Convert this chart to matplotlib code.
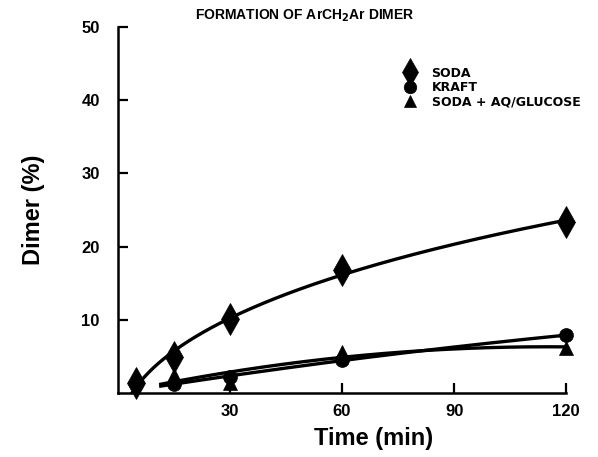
import numpy as np
import matplotlib
matplotlib.use('Agg')
import matplotlib.pyplot as plt

plt.rcParams['font.family'] = ['Liberation Sans', 'DejaVu Sans']
plt.rcParams['font.weight'] = 'bold'

# data
soda_t = [5, 15, 30, 60, 120]
soda_y = [1.4, 4.9, 10.1, 16.8, 23.4]
kraft_t = [15, 30, 60, 120]
kraft_y = [1.3, 2.2, 4.5, 7.9]
aq_t = [15, 30, 60, 120]
aq_y = [2.4, 1.4, 5.6, 6.2]

fig = plt.figure(figsize=(5.98, 4.57), dpi=100)
ax = fig.add_axes([0.197, 0.140, 0.750, 0.801])

# smooth fitted curves through the points
t = np.array(soda_t, float)
A = np.vstack([np.ones_like(t), np.sqrt(t), t]).T
coef = np.linalg.lstsq(A, np.array(soda_y), rcond=None)[0]
tt = np.linspace(3, 120, 200)
ax.plot(tt, coef[0] + coef[1] * np.sqrt(tt) + coef[2] * tt, color='black', lw=2.4, zorder=2)

tt2 = np.linspace(11.5, 120, 200)
c = np.polyfit(kraft_t, kraft_y, 2)
ax.plot(tt2, np.polyval(c, tt2), color='black', lw=2.4, zorder=2)
t = np.array(aq_t, float)
A = np.vstack([t, t ** 2]).T
c2 = np.linalg.lstsq(A, np.array(aq_y), rcond=None)[0]
ax.plot(tt2, c2[0] * tt2 + c2[1] * tt2 ** 2, color='black', lw=2.4, zorder=2)

ax.plot(soda_t, soda_y, 'd', color='black', markersize=16, mew=0.5, zorder=3,
        clip_on=False, label='SODA')
ax.plot(kraft_t, kraft_y, 'o', color='black', markersize=10, mew=0.5, zorder=3,
        clip_on=False, label='KRAFT')
ax.plot(aq_t, aq_y, '^', color='black', markersize=10, mew=0.5, zorder=3,
        clip_on=False, label='SODA + AQ/GLUCOSE')

ax.set_xlim(0, 120)
ax.set_ylim(0, 50)
ax.set_xticks([30, 60, 90, 120])
ax.set_yticks([10, 20, 30, 40, 50])
ax.spines['top'].set_visible(False)
ax.spines['right'].set_visible(False)
for s in ['left', 'bottom']:
    ax.spines[s].set_linewidth(1.8)
ax.tick_params(direction='in', length=7.5, width=1.6, labelsize=12)
ax.tick_params(axis='y', pad=13)
ax.tick_params(axis='x', pad=8)
for lab in ax.get_xticklabels() + ax.get_yticklabels():
    lab.set_fontweight('bold')

ax.set_xlabel('Time (min)', fontsize=17, fontweight='bold')
ax.xaxis.set_label_coords(0.57, -0.093)
ax.set_ylabel('Dimer (%)', fontsize=17, fontweight='bold', labelpad=26)
fig.text(0.51, 0.965, r'FORMATION OF ArCH$_\mathbf{2}$Ar DIMER', ha='center', va='center',
         fontsize=10, fontweight='bold')

leg = ax.legend(loc='upper left', bbox_to_anchor=(0.627, 0.905), frameon=False,
                prop={'size': 9, 'weight': 'bold', 'family': 'DejaVu Sans'},
                handlelength=1.0, handletextpad=1.2, labelspacing=0.12, borderaxespad=0)
for h in leg.legend_handles:
    h.set_markersize(9)
leg.legend_handles[0].set_markersize(14)

fig.savefig('out.png', dpi=100)
